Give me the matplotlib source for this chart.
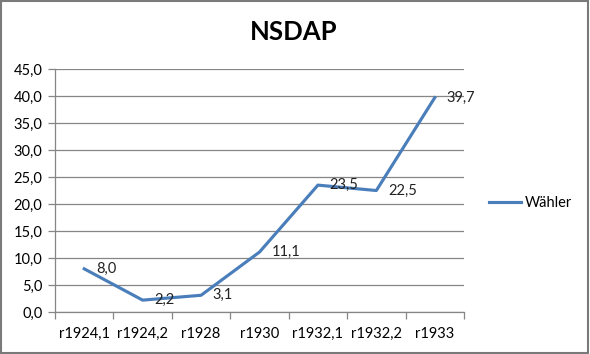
import matplotlib.pyplot as plt
from matplotlib.patches import Rectangle
import numpy as np

plt.rcParams['font.family'] = ['Lato', 'DejaVu Sans']

# data
wahlen = ['r1924,1', 'r1924,2', 'r1928', 'r1930', 'r1932,1', 'r1932,2', 'r1933']
waehler = [8.0, 2.2, 3.1, 11.1, 23.5, 22.5, 39.7]

fig = plt.figure(figsize=(5.9, 3.54), dpi=100)
ax = fig.add_axes([0.0932, 0.1186, 0.6932, 0.6864])

x = np.arange(len(wahlen))
blue = '#4A7EBB'
grey = '#868686'

ax.plot(x, waehler, color=blue, lw=2.25, label='Wähler', solid_joinstyle='round')

# data labels right of the points
for xi, v in zip(x, waehler):
    ax.annotate(f'{v:.1f}'.replace('.', ','), (xi, v), xytext=(8.5, 0),
                textcoords='offset points', ha='left', va='center',
                fontsize=10.5, color='#222222')

ax.set_xlim(-0.5, len(wahlen) - 0.5)
ax.set_ylim(0, 45)
yt = np.arange(0, 46, 5)
ax.set_yticks(yt)
ax.set_yticklabels([f'{v:.1f}'.replace('.', ',') for v in yt])
ax.grid(axis='y', color=grey, lw=0.9)
ax.set_axisbelow(True)

# category axis: ticks at boundaries, labels in the middle
ax.set_xticks(np.arange(len(wahlen) + 1) - 0.5)
ax.set_xticklabels([])
ax.set_xticks(x, minor=True)
ax.set_xticklabels(wahlen, minor=True)
ax.tick_params(axis='x', which='minor', length=0, pad=11, labelsize=10.5)
ax.tick_params(axis='x', which='major', length=5, color=grey, width=0.9)
ax.tick_params(axis='y', length=5, color=grey, width=0.9, labelsize=10.5, pad=4)

for s in ['top', 'right']:
    ax.spines[s].set_visible(False)
for s in ['left', 'bottom']:
    ax.spines[s].set_color(grey)
    ax.spines[s].set_linewidth(0.9)

fig.text(0.497, 0.91, 'NSDAP', ha='center', va='center', fontsize=18.5, fontweight='bold')

ax.legend(loc='center left', bbox_to_anchor=(1.03, 0.45), frameon=False,
          fontsize=10.5, handlelength=2.2, handletextpad=0.2)

# chart border
fig.patches.append(Rectangle((0.002, 0.003), 0.995, 0.993, transform=fig.transFigure,
                             fill=False, edgecolor='#7a7a7a', lw=1.5))

plt.savefig('out.png', dpi=100)
